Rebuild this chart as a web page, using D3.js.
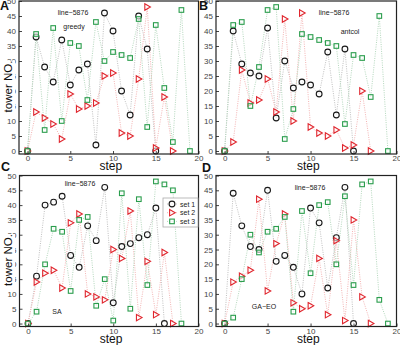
<!DOCTYPE html>
<html lang="en">
<head>
    <meta charset="UTF-8">
    <title>tower NO. vs step</title>
    <script type="text/javascript" src="https://d3js.org/d3.v7.min.js"></script>
    <style>
        body { margin: 0; background: #fff; }
        text { font-family: Arial, "Liberation Sans", sans-serif; }
    </style>
</head>
<body>
<svg height="345" width="400"></svg>

<script>

    // panel A - greedy
    var greedySet1 = [0, 38, 28, 23, 37, 22, 27, 29, 2, 46, 40, 20, 12, 45, 34, 0];
    var greedySet2 = [0, 13, 11, 9, 4, 19, 14, 15, 16, 25, 26, 6, 5, 24, 48, 1, 18, 0];
    var greedySet3 = [0, 39, 7, 41, 10, 36, 35, 17, 43, 30, 33, 32, 31, 44, 8, 42, 21, 3, 47, 0];

    // panel B - antcol
    var antcolSet1 = [0, 40, 29, 26, 25, 41, 11, 30, 21, 23, 22, 19, 33, 12, 34, 0];
    var antcolSet2 = [0, 3, 27, 16, 17, 24, 13, 44, 10, 46, 8, 6, 5, 7, 1, 2, 20, 0];
    var antcolSet3 = [0, 42, 43, 15, 28, 47, 48, 4, 14, 39, 38, 37, 36, 35, 9, 32, 31, 18, 45, 0];

    // panel C - SA
    var saSet1 = [0, 16, 40, 41, 43, 23, 19, 33, 28, 46, 7, 26, 27, 29, 30, 39, 0];
    var saSet2 = [0, 14, 17, 18, 12, 34, 37, 10, 9, 8, 25, 22, 38, 2, 21, 3, 24, 0];
    var saSet3 = [0, 4, 20, 32, 31, 11, 35, 36, 6, 15, 1, 44, 5, 42, 13, 48, 47, 45, 0];

    // panel D - GA-EO
    var gaeoSet1 = [0, 44, 33, 26, 25, 45, 21, 23, 19, 10, 39, 34, 12, 29, 46, 0];
    var gaeoSet2 = [0, 14, 16, 18, 42, 11, 27, 37, 7, 5, 6, 22, 3, 28, 1, 35, 9, 0];
    var gaeoSet3 = [0, 2, 15, 30, 24, 31, 32, 36, 4, 38, 17, 40, 41, 20, 43, 13, 47, 48, 8, 0];

    var seriesNames = ['set 1', 'set 2', 'set 3'];
    var xTicks = [0, 5, 10, 15, 20];
    var yTicks = [0, 5, 10, 15, 20, 25, 30, 35, 40, 45, 50];

    var panels = [
        {letter: 'A', method: 'greedy', sets: [greedySet1, greedySet2, greedySet3],
            x0: 19, x1: 198.5, y0: 154, y1: 1, yLabel: true, legend: false,
            ax: 0, ay: 9.5, lx: 73, ly: 15, mx: 74, my: 29},
        {letter: 'B', method: 'antcol', sets: [antcolSet1, antcolSet2, antcolSet3],
            x0: 216, x1: 396.5, y0: 154, y1: 1, yLabel: false, legend: false,
            ax: 199, ay: 10, lx: 334, ly: 15, mx: 350, my: 34},
        {letter: 'C', method: 'SA', sets: [saSet1, saSet2, saSet3],
            x0: 19.5, x1: 198.5, y0: 326.5, y1: 175.5, yLabel: true, legend: true,
            ax: 1, ay: 171, lx: 80, ly: 186, mx: 57, my: 314},
        {letter: 'D', method: 'GA\u2212EO', sets: [gaeoSet1, gaeoSet2, gaeoSet3],
            x0: 216, x1: 396.5, y0: 326.5, y1: 175.5, yLabel: false, legend: false,
            ax: 202, ay: 172, lx: 310, ly: 190, mx: 264, my: 309}
    ];

    var markColor = ['#1a1a1a', '#e0262e', '#2a9d4c'];
    var lineColor = ['#c0c0c0', '#f4b4b4', '#b4d8bd'];

    var svg = d3.select('svg');

    // marker shapes
    function drawMarker(sel, k) {
        if (k === 0) {
            sel.append('circle').attr('r', 2.9);
        } else if (k === 1) {
            sel.append('path').attr('d', 'M-2.4,-3.2L3.2,0L-2.4,3.2Z');
        } else {
            sel.append('rect').attr('x', -2.3).attr('y', -2.3).attr('width', 4.6).attr('height', 4.6);
        }
        sel.attr('fill', '#fff')
            .attr('fill-opacity', 0.6)
            .attr('stroke', markColor[k])
            .attr('stroke-width', 1.1);
    }

    panels.forEach(function (p) {
        var x = d3.scaleLinear().domain([-1, 20]).range([p.x0, p.x1]);
        var y = d3.scaleLinear().domain([-1, 50]).range([p.y0, p.y1]);
        var g = svg.append('g');

        // dotted connecting lines
        var line = d3.line()
            .x(function (d, i) { return x(i); })
            .y(function (d) { return y(d); });

        p.sets.forEach(function (s, k) {
            g.append('path')
                .attr('d', line(s))
                .attr('fill', 'none')
                .attr('stroke', lineColor[k])
                .attr('stroke-width', 1)
                .attr('stroke-dasharray', '1,1.3');
        });

        // markers
        p.sets.forEach(function (s, k) {
            g.selectAll('.m' + k)
                .data(s)
                .enter()
                .append('g')
                .attr('class', 'm' + k)
                .attr('transform', function (d, i) {
                    return 'translate(' + x(i) + ',' + y(d) + ')';
                })
                .each(function () { drawMarker(d3.select(this), k); });
        });

        // axes, ticks inside like matlab
        var xAxis = d3.axisBottom(x).tickValues(xTicks).tickSizeInner(-3).tickSizeOuter(0).tickPadding(1.5);
        var yAxis = d3.axisLeft(y).tickValues(yTicks).tickSizeInner(-3).tickSizeOuter(0).tickPadding(3);

        var gx = g.append('g').attr('transform', 'translate(0,' + p.y0 + ')').call(xAxis);
        var gy = g.append('g').attr('transform', 'translate(' + p.x0 + ',0)').call(yAxis);
        [gx, gy].forEach(function (a) {
            a.select('.domain').remove();
            a.selectAll('line').attr('stroke', '#444');
            a.selectAll('text').attr('font-size', 8).attr('fill', '#444')
                .attr('font-family', 'Arial, "Liberation Sans", sans-serif');
        });

        // box
        g.append('rect')
            .attr('x', p.x0).attr('y', p.y1)
            .attr('width', p.x1 - p.x0).attr('height', p.y0 - p.y1)
            .attr('fill', 'none')
            .attr('stroke', '#222')
            .attr('stroke-width', 1.2);

        // labels
        g.append('text')
            .attr('x', (p.x0 + p.x1) / 2 + 2)
            .attr('y', p.y0 + 16)
            .attr('text-anchor', 'middle')
            .attr('font-size', 12)
            .attr('fill', '#111')
            .text('step');

        if (p.yLabel) {
            var cy = (p.y0 + p.y1) / 2 + 9;
            // the label sits over the middle tick labels, as in the original figure
            g.append('rect')
                .attr('x', 1).attr('y', cy - 26)
                .attr('width', 14).attr('height', 52)
                .attr('fill', '#fff');
            g.append('text')
                .attr('transform', 'translate(12,' + cy + ') rotate(-90)')
                .attr('text-anchor', 'middle')
                .attr('font-size', 11.5)
                .attr('fill', '#111')
                .text('tower NO.');
        }

        g.append('text')
            .attr('x', p.ax)
            .attr('y', p.ay)
            .attr('font-size', 12.5)
            .attr('font-weight', 'bold')
            .attr('fill', '#111')
            .text(p.letter);

        g.append('text')
            .attr('x', p.lx).attr('y', p.ly)
            .attr('text-anchor', 'middle')
            .attr('font-size', 7)
            .attr('fill', '#222')
            .text('line\u22125876');

        g.append('text')
            .attr('x', p.mx).attr('y', p.my)
            .attr('text-anchor', 'middle')
            .attr('font-size', 7)
            .attr('fill', '#222')
            .text(p.method);

        // legend
        if (p.legend) {
            var lg = g.append('g').attr('transform', 'translate(163,198)');
            lg.append('rect')
                .attr('width', 35).attr('height', 29)
                .attr('fill', '#fff')
                .attr('stroke', '#aaa')
                .attr('stroke-width', 0.8);
            seriesNames.forEach(function (name, k) {
                var row = lg.append('g').attr('transform', 'translate(0,' + (6 + k * 8.7) + ')');
                row.append('line')
                    .attr('x1', 4).attr('x2', 14)
                    .attr('stroke', lineColor[k])
                    .attr('stroke-dasharray', '1,1.3');
                var m = row.append('g').attr('transform', 'translate(9,0)');
                drawMarker(m, k);
                row.append('text')
                    .attr('x', 17).attr('y', 2.5)
                    .attr('font-size', 7)
                    .attr('fill', '#222')
                    .text(name);
            });
        }
    });
</script>
</body>
</html>
